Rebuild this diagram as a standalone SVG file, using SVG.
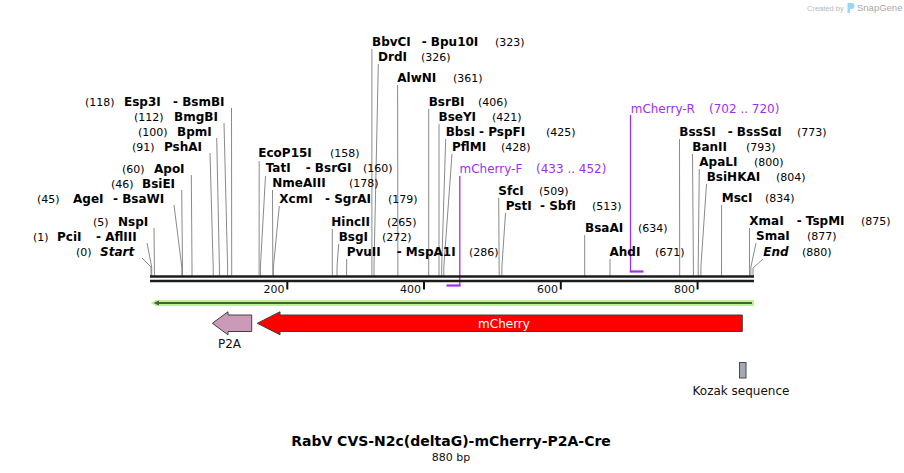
<svg xmlns="http://www.w3.org/2000/svg" width="904" height="473" viewBox="0 0 904 473">
<style>
.en{font-family:"DejaVu Sans",Verdana,sans-serif;font-weight:bold;font-size:12px;fill:#000}
.it{font-style:italic}
.num{font-family:"DejaVu Sans",Verdana,sans-serif;font-size:11px;fill:#000;font-weight:normal;font-style:normal}
.pr{font-family:"DejaVu Sans",Verdana,sans-serif;font-size:12px;fill:#a02ef0}
.cut{stroke:#8a8a8a;stroke-width:1;fill:none}
.prl{stroke:#a02ef0;fill:none}
.lab{font-family:"DejaVu Sans",Verdana,sans-serif;font-size:12px;fill:#111}
.tick{stroke:#111;stroke-width:2}
.tl{font-family:"DejaVu Sans",Verdana,sans-serif;font-size:11px;fill:#111;text-anchor:end}
.feat{stroke:#404040;stroke-width:1}
</style>
<rect width="904" height="473" fill="#fff"/>

<g id="watermark">
<text x="807" y="11" font-family="Liberation Sans,Arial,sans-serif" font-size="7.5" fill="#b8b8b8">Created by</text>
<path d="M847.5 3 h4 a3 3 0 0 1 0 6 h-1.5 v4 h-2.5 z" fill="#9ad6f5"/>
<text x="857" y="11" font-family="Liberation Sans,Arial,sans-serif" font-size="9.5" fill="#a8a8a8">SnapGene</text>
</g>

<g id="connectors">
<path class="cut" d="M231.5 108 L231.7 267 V276"/>
<path class="cut" d="M224 123 L227.6 267 V276"/>
<path class="cut" d="M216.7 138 L219.4 267 V276"/>
<path class="cut" d="M210 153 L213.2 267 V276"/>
<path class="cut" d="M191.3 175 L192 267 V276"/>
<path class="cut" d="M181.7 190 L182.5 267 V276"/>
<path class="cut" d="M174 205 L181.8 267 V276"/>
<path class="cut" d="M154 228 L154.4 267 V276"/>
<path class="cut" d="M147 243 L151.7 267 V276"/>
<path class="cut" d="M142 258 L151 267 V276"/>
<path class="cut" d="M259.2 161 L259.1 267 V276"/>
<path class="cut" d="M265.5 176 L260.4 267 V276"/>
<path class="cut" d="M272.5 190 L272.8 267 V276"/>
<path class="cut" d="M279.3 206 L273.4 267 V276"/>
<path class="cut" d="M332.3 229 L332.3 276"/>
<path class="cut" d="M338.7 244 L337 267 V276"/>
<path class="cut" d="M346.7 259 L346.6 276"/>
<path class="cut" d="M371.9 49 L371.9 276"/>
<path class="cut" d="M378.3 64 L374 267 V276"/>
<path class="cut" d="M397.6 85 L397.9 276"/>
<path class="cut" d="M428.7 109 L428.7 276"/>
<path class="cut" d="M439 124 L439 276"/>
<path class="cut" d="M445.7 139 L441.7 267 V276"/>
<path class="cut" d="M452 154 L443.8 267 V276"/>
<path class="cut" d="M498.7 198 L499.2 276"/>
<path class="cut" d="M505.5 213 L501.9 267 V276"/>
<path class="cut" d="M584.7 235 L584.7 276"/>
<path class="cut" d="M610 259 L610 276"/>
<path class="cut" d="M679.5 139 L679.7 276"/>
<path class="cut" d="M692.5 154 L693.4 267 V276"/>
<path class="cut" d="M699.3 169 L698.2 267 V276"/>
<path class="cut" d="M706.5 184 L700.9 267 V276"/>
<path class="cut" d="M721.6 205 L721.5 276"/>
<path class="cut" d="M749.5 228 L749.5 276"/>
<path class="cut" d="M756 243 L750.9 267 V276"/>
<path class="cut" d="M763 259 L753 268 V276"/>
<path class="prl" stroke-width="1.3" d="M459.8 176 V286"/>
<path class="prl" stroke-width="2.2" d="M446.5 285.5 H460.5"/>
<path class="prl" stroke-width="1.3" d="M630.5 115 V272"/>
<path class="prl" stroke-width="2.2" d="M629.8 271.5 H643.5"/>
</g>

<g id="backbone">
<line x1="150" y1="276.5" x2="754" y2="276.5" stroke="#1c1c1c" stroke-width="2.6"/>
<line x1="150" y1="281" x2="754" y2="281" stroke="#1c1c1c" stroke-width="2.6"/>
<line class="tick" x1="287.3" y1="282" x2="287.3" y2="289.5"/>
<line class="tick" x1="424" y1="282" x2="424" y2="289.5"/>
<line class="tick" x1="560.8" y1="282" x2="560.8" y2="289.5"/>
<line class="tick" x1="697.6" y1="282" x2="697.6" y2="289.5"/>
<text class="tl" x="284.5" y="293">200</text>
<text class="tl" x="421" y="293">400</text>
<text class="tl" x="558" y="293">600</text>
<text class="tl" x="695" y="293">800</text>
</g>

<g id="enz-Esp3I"><text class="en" y="106"><tspan class="num" x="85">(118)</tspan><tspan x="124">Esp3I</tspan><tspan x="173">- BsmBI</tspan></text></g>
<g id="enz-BmgBI"><text class="en" y="121"><tspan class="num" x="134">(112)</tspan><tspan x="174">BmgBI</tspan></text></g>
<g id="enz-BpmI"><text class="en" y="136"><tspan class="num" x="138">(100)</tspan><tspan x="177">BpmI</tspan></text></g>
<g id="enz-PshAI"><text class="en" y="151"><tspan class="num" x="132">(91)</tspan><tspan x="164">PshAI</tspan></text></g>
<g id="enz-ApoI"><text class="en" y="173"><tspan class="num" x="122">(60)</tspan><tspan x="154">ApoI</tspan></text></g>
<g id="enz-BsiEI"><text class="en" y="188"><tspan class="num" x="111">(46)</tspan><tspan x="142">BsiEI</tspan></text></g>
<g id="enz-AgeI"><text class="en" y="203"><tspan class="num" x="37">(45)</tspan><tspan x="73">AgeI</tspan><tspan x="113">- BsaWI</tspan></text></g>
<g id="enz-NspI"><text class="en" y="226"><tspan class="num" x="93">(5)</tspan><tspan x="118">NspI</tspan></text></g>
<g id="enz-PciI"><text class="en" y="241"><tspan class="num" x="33">(1)</tspan><tspan x="57">PciI</tspan><tspan x="96">- AflIII</tspan></text></g>
<g id="site-Start"><text class="en" y="256"><tspan class="num" x="76">(0)</tspan><tspan class="it" x="100">Start</tspan></text></g>

<g id="enz-EcoP15I"><text class="en" y="157"><tspan x="258.3">EcoP15I</tspan><tspan class="num" x="330">(158)</tspan></text></g>
<g id="enz-TatI"><text class="en" y="172"><tspan x="265.7">TatI</tspan><tspan x="305.7">- BsrGI</tspan><tspan class="num" x="363">(160)</tspan></text></g>
<g id="enz-NmeAIII"><text class="en" y="187"><tspan x="272.3">NmeAIII</tspan><tspan class="num" x="349">(178)</tspan></text></g>
<g id="enz-XcmI"><text class="en" y="203"><tspan x="279.3">XcmI</tspan><tspan x="325">- SgrAI</tspan><tspan class="num" x="388">(179)</tspan></text></g>
<g id="enz-HincII"><text class="en" y="226"><tspan x="331.3">HincII</tspan><tspan class="num" x="387">(265)</tspan></text></g>
<g id="enz-BsgI"><text class="en" y="241"><tspan x="338.7">BsgI</tspan><tspan class="num" x="382">(272)</tspan></text></g>
<g id="enz-PvuII"><text class="en" y="256"><tspan x="346.7">PvuII</tspan><tspan x="396.7">- MspA1I</tspan><tspan class="num" x="469">(286)</tspan></text></g>
<g id="enz-BbvCI"><text class="en" y="46"><tspan x="372">BbvCI</tspan><tspan x="421.7">- Bpu10I</tspan><tspan class="num" x="495">(323)</tspan></text></g>
<g id="enz-DrdI"><text class="en" y="61"><tspan x="378">DrdI</tspan><tspan class="num" x="421">(326)</tspan></text></g>
<g id="enz-AlwNI"><text class="en" y="82"><tspan x="397.3">AlwNI</tspan><tspan class="num" x="453">(361)</tspan></text></g>
<g id="enz-BsrBI"><text class="en" y="106"><tspan x="428.7">BsrBI</tspan><tspan class="num" x="478">(406)</tspan></text></g>
<g id="enz-BseYI"><text class="en" y="121"><tspan x="438.5">BseYI</tspan><tspan class="num" x="492">(421)</tspan></text></g>
<g id="enz-BbsI"><text class="en" y="136"><tspan x="445.7">BbsI</tspan><tspan x="479">- PspFI</tspan><tspan class="num" x="546">(425)</tspan></text></g>
<g id="enz-PflMI"><text class="en" y="151"><tspan x="452">PflMI</tspan><tspan class="num" x="501">(428)</tspan></text></g>
<g id="primer-mCherry-F"><text class="pr" y="173"><tspan x="459.5">mCherry-F</tspan><tspan x="536">(433 .. 452)</tspan></text></g>
<g id="enz-SfcI"><text class="en" y="195"><tspan x="498.3">SfcI</tspan><tspan class="num" x="539">(509)</tspan></text></g>
<g id="enz-PstI"><text class="en" y="210"><tspan x="505.7">PstI</tspan><tspan x="540">- SbfI</tspan><tspan class="num" x="592">(513)</tspan></text></g>
<g id="enz-BsaAI"><text class="en" y="232"><tspan x="585">BsaAI</tspan><tspan class="num" x="638">(634)</tspan></text></g>
<g id="enz-AhdI"><text class="en" y="256"><tspan x="609.5">AhdI</tspan><tspan class="num" x="655">(671)</tspan></text></g>
<g id="primer-mCherry-R"><text class="pr" y="113"><tspan x="630.7">mCherry-R</tspan><tspan x="709">(702 .. 720)</tspan></text></g>
<g id="enz-BssSI"><text class="en" y="136"><tspan x="679.3">BssSI</tspan><tspan x="727.7">- BssSαI</tspan><tspan class="num" x="797">(773)</tspan></text></g>
<g id="enz-BanII"><text class="en" y="151"><tspan x="692.3">BanII</tspan><tspan class="num" x="746">(793)</tspan></text></g>
<g id="enz-ApaLI"><text class="en" y="166"><tspan x="699.3">ApaLI</tspan><tspan class="num" x="754">(800)</tspan></text></g>
<g id="enz-BsiHKAI"><text class="en" y="181"><tspan x="706.7">BsiHKAI</tspan><tspan class="num" x="776">(804)</tspan></text></g>
<g id="enz-MscI"><text class="en" y="202"><tspan x="721.7">MscI</tspan><tspan class="num" x="765">(834)</tspan></text></g>
<g id="enz-XmaI"><text class="en" y="225"><tspan x="749.3">XmaI</tspan><tspan x="796.7">- TspMI</tspan><tspan class="num" x="861">(875)</tspan></text></g>
<g id="enz-SmaI"><text class="en" y="240"><tspan x="756">SmaI</tspan><tspan class="num" x="807">(877)</tspan></text></g>
<g id="site-End"><text class="en" y="256"><tspan class="it" x="763.3">End</tspan><tspan class="num" x="802">(880)</tspan></text></g>

<g id="feat-strand">
<rect x="155" y="300" width="599" height="6" fill="#bdf28f"/>
<polygon points="150.5,303 158,299.5 158,306.5" fill="#bdf28f"/>
<line x1="158" y1="303" x2="752" y2="303" stroke="#4a6238" stroke-width="2"/>
<polygon points="153.5,303 159,300.5 159,305.5" fill="#4a6238"/>
</g>

<g id="feat-P2A">
<polygon class="feat" points="251.7,315 228,315 228,311.8 212.3,323.3 228,334.8 228,331.5 251.7,331.5" fill="#cc9ab9"/>
<text class="lab" x="229.5" y="348" text-anchor="middle">P2A</text>
</g>

<g id="feat-mCherry">
<polygon class="feat" points="742.3,315 280,315 280,311.8 257.3,323.3 280,334.8 280,331.5 742.3,331.5" fill="#ff0000"/>
<text class="lab" x="504" y="328" text-anchor="middle" fill="#fff" style="fill:#fff">mCherry</text>
</g>

<g id="feat-Kozak">
<rect x="739.5" y="362.5" width="6.5" height="15.5" fill="#a3a8b2" stroke="#4a4a4a" stroke-width="1"/>
<text class="lab" x="741" y="395" text-anchor="middle">Kozak sequence</text>
</g>

<g id="title">
<text x="451" y="446" text-anchor="middle" font-family="DejaVu Sans,Verdana,sans-serif" font-weight="bold" font-size="14" fill="#000">RabV CVS-N2c(deltaG)-mCherry-P2A-Cre</text>
<text x="451" y="461" text-anchor="middle" font-family="DejaVu Sans,Verdana,sans-serif" font-size="11" fill="#111">880 bp</text>
</g>
</svg>
